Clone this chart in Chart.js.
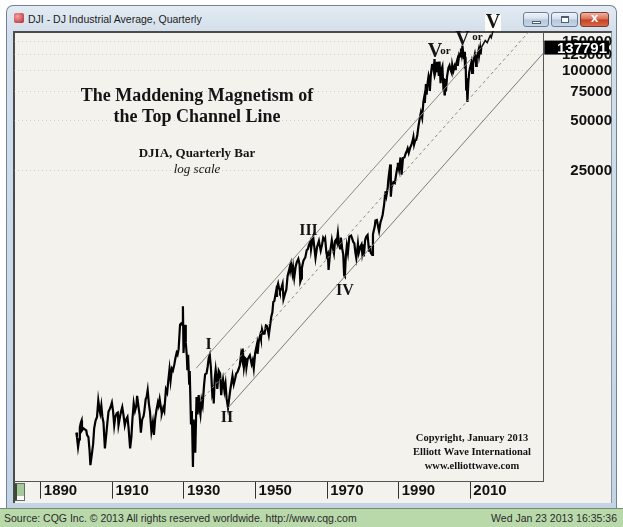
<!DOCTYPE html>
<html>
<head>
<meta charset="utf-8">
<title>DJI - DJ Industrial Average, Quarterly</title>
<script src="https://cdn.jsdelivr.net/npm/chart.js"></script>
<style>
    html, body { margin: 0; padding: 0; background: #ffffff; }
    body { position: relative; width: 623px; height: 527px; overflow: hidden; font-family: "Liberation Sans", Arial, sans-serif; }
    .win { position: absolute; left: 6px; top: 5px; width: 611px; height: 503px; box-sizing: border-box;
           border: 1px solid #72839b; border-bottom: none; border-radius: 7px 7px 0 0;
           background: linear-gradient(to bottom, #e3ebf3 0px, #d3dfeb 26px, #c4d4e5 100%); }
    .icon { position: absolute; left: 14px; top: 13px; width: 10px; height: 10px; border-radius: 2px;
            background: radial-gradient(circle at 35% 35%, #f7a0a0, #b3262d); }
    .caption { position: absolute; left: 28px; top: 13px; font-size: 10.5px; color: #1b1b1b; }
    .btn { position: absolute; top: 12px; height: 15px; box-sizing: border-box; border: 1px solid #6c7d95; border-radius: 3px;
           background: linear-gradient(to bottom, #f1f5fa 0%, #d3deea 48%, #b4c7dc 52%, #c6d6e8 100%); }
    .btn.min { left: 523px; width: 26px; }
    .btn.max { left: 551px; width: 27px; }
    .btn.close { left: 580px; width: 29px; border-color: #7a3a2c;
                 background: linear-gradient(to bottom, #eeb3a2 0%, #d86e52 48%, #c3411f 52%, #d9684a 100%); }
    .btn.min:after { content: ""; position: absolute; left: 8px; top: 8px; width: 9px; height: 3px; background: #fff; border: 1px solid #4d5d72; box-sizing: border-box; }
    .btn.max:after { content: ""; position: absolute; left: 9px; top: 3px; width: 8px; height: 7px; border: 1px solid #4d5d72; border-top-width: 2px; background: #fff; box-sizing: border-box; }
    .btn.close:after { content: "x"; position: absolute; left: 0; right: 0; top: -3px; text-align: center; color: #fff; font: bold 13px "Liberation Sans", Arial, sans-serif; }
    .client { position: absolute; left: 13px; top: 31px; width: 599px; height: 472px; box-sizing: border-box;
              background: #f3f2ec; border-top: 2px solid #4b4b4b; border-left: 2px solid #4b4b4b; border-right: 1px solid #8896a6; }
    .thumb { position: absolute; left: 14px; top: 483px; width: 11px; height: 18px; box-sizing: border-box;
             border: 1px solid #6a6a6a; border-left: 3px solid #3d4a38;
             background: linear-gradient(to bottom, #a6c99a 0%, #a6c99a 75%, #ffffff 75%); }
    .status { position: absolute; left: 0; top: 508px; width: 623px; height: 19px; box-sizing: border-box;
              background: #b9d9ab; border-top: 1px solid #6e8d69; font-size: 10.5px; color: #2a2a2a; }
    .status span { position: absolute; top: 3px; white-space: nowrap; }
    #grafica { position: absolute; left: 0; top: 0; z-index: 2; }
</style>
</head>
<body>
<div class="win">
</div>
<div class="icon"></div>
<div class="caption">DJI - DJ Industrial Average, Quarterly</div>
<div class="btn min"></div>
<div class="btn max"></div>
<div class="btn close"></div>
<div class="client"></div>
<div class="thumb"></div>
<div class="status">
    <span style="left:4px">Source: CQG Inc. © 2013 All rights reserved worldwide. http://www.cqg.com</span>
    <span style="right:6px">Wed Jan 23 2013 16:35:36</span>
</div>
<canvas id="grafica" width="623" height="527"></canvas>
<script>
// quarterly swings of the index (scale as printed on the chart)
const years = [
    1899.9, 1900.1, 1900.4, 1900.7, 1900.9, 1901.2, 1901.4, 1901.5, 1901.9, 1902.3, 1902.7, 1902.9,
    1903.3, 1903.6, 1903.85, 1904.2, 1904.6, 1904.9, 1905.3, 1905.7, 1906.05, 1906.4, 1906.6, 1906.9,
    1907.2, 1907.5, 1907.9, 1908.3, 1908.6, 1908.9, 1909.3, 1909.6, 1909.85, 1910.2, 1910.5, 1910.8,
    1911.2, 1911.5, 1911.7, 1912.1, 1912.4, 1912.75, 1913.1, 1913.45, 1913.8, 1914.2, 1914.5, 1914.95,
    1915.3, 1915.6, 1915.95, 1916.3, 1916.7, 1916.9, 1917.3, 1917.6, 1917.95, 1918.3, 1918.7, 1918.9,
    1919.3, 1919.55, 1919.85, 1920.2, 1920.5, 1920.9, 1921.3, 1921.6, 1921.95, 1922.3, 1922.7, 1922.9,
    1923.2, 1923.6, 1923.8, 1924.2, 1924.5, 1924.95, 1925.3, 1925.6, 1925.95, 1926.25, 1926.6, 1926.9,
    1927.3, 1927.6, 1927.95, 1928.2, 1928.5, 1928.9, 1929.2, 1929.45, 1929.7, 1929.87, 1930.1, 1930.3,
    1930.5, 1930.8, 1930.95, 1931.15, 1931.45, 1931.6, 1931.95, 1932.2, 1932.5, 1932.7, 1932.9, 1933.15,
    1933.5, 1933.8, 1934.1, 1934.35, 1934.6, 1934.9, 1935.2, 1935.6, 1935.9, 1936.3, 1936.6, 1936.9,
    1937.2, 1937.5, 1937.9, 1938.2, 1938.3, 1938.6, 1938.85, 1939.2, 1939.3, 1939.7, 1940.1, 1940.4,
    1940.7, 1940.9, 1941.3, 1941.6, 1941.9, 1942.3, 1942.6, 1942.95, 1943.3, 1943.55, 1943.9, 1944.3,
    1944.6, 1944.9, 1945.3, 1945.6, 1945.95, 1946.15, 1946.4, 1946.75, 1947.1, 1947.3, 1947.45, 1947.8,
    1948.4, 1948.7, 1948.9, 1949.2, 1949.5, 1949.9, 1950.4, 1950.55, 1950.9, 1951.3, 1951.5, 1951.8,
    1952.1, 1952.5, 1952.9, 1953.2, 1953.7, 1953.95, 1954.4, 1954.7, 1954.95, 1955.25, 1955.7, 1955.85,
    1955.95, 1956.3, 1956.55, 1956.8, 1957.2, 1957.55, 1957.8, 1958.2, 1958.6, 1958.95, 1959.3, 1959.6,
    1959.7, 1959.95, 1960.3, 1960.5, 1960.8, 1961.2, 1961.5, 1961.95, 1962.3, 1962.5, 1962.8, 1962.95,
    1963.4, 1963.9, 1964.3, 1964.6, 1964.9, 1965.35, 1965.5, 1965.9, 1966.1, 1966.4, 1966.75, 1967.2,
    1967.7, 1967.95, 1968.2, 1968.6, 1968.9, 1969.3, 1969.45, 1969.8, 1969.95, 1970.2, 1970.4, 1970.7,
    1970.95, 1971.3, 1971.6, 1971.9, 1972.2, 1972.5, 1972.7, 1973.0, 1973.3, 1973.6, 1973.85, 1974.2,
    1974.5, 1974.75, 1974.95, 1975.2, 1975.5, 1975.8, 1976.2, 1976.7, 1976.95, 1977.3, 1977.6, 1977.9,
    1978.15, 1978.6, 1978.85, 1979.3, 1979.6, 1979.8, 1980.15, 1980.25, 1980.6, 1980.9, 1981.3, 1981.7,
    1981.95, 1982.2, 1982.6, 1982.8, 1982.95, 1983.3, 1983.5, 1983.9, 1984.3, 1984.5, 1984.9, 1985.2,
    1985.5, 1985.9, 1986.2, 1986.3, 1986.55, 1986.9, 1987.1, 1987.3, 1987.65, 1987.8, 1988.0, 1988.5,
    1988.9, 1989.3, 1989.6, 1989.75, 1990.1, 1990.5, 1990.8, 1991.2, 1991.6, 1991.95, 1992.3, 1992.5,
    1992.8, 1993.2, 1993.5, 1993.9, 1994.1, 1994.3, 1994.6, 1994.9, 1995.2, 1995.5, 1995.9, 1996.2,
    1996.55, 1996.9, 1997.2, 1997.3, 1997.6, 1997.8, 1998.1, 1998.35, 1998.55, 1998.7, 1998.95, 1999.3,
    1999.5, 1999.8, 2000.0, 2000.2, 2000.5, 2000.7, 2000.8, 2001.0, 2001.2, 2001.4, 2001.7, 2001.9,
    2002.2, 2002.5, 2002.6, 2002.8, 2002.9, 2003.2, 2003.5, 2003.9, 2004.2, 2004.5, 2004.8, 2004.95,
    2005.3, 2005.6, 2005.8, 2005.95, 2006.35, 2006.5, 2006.9, 2007.15, 2007.4, 2007.6, 2007.8, 2008.2,
    2008.35, 2008.5, 2008.7, 2008.85, 2008.95, 2009.2, 2009.45, 2009.7, 2009.95, 2010.3, 2010.5, 2010.75,
    2010.95, 2011.3, 2011.5, 2011.6, 2011.8, 2011.95, 2012.3, 2012.45, 2012.75, 2012.9, 2013.06
];
const values = [
    660, 620, 540, 600, 710, 760, 780, 680, 700, 690, 680, 640,
    620, 520, 420, 480, 560, 700, 780, 820, 1030, 900, 860, 960,
    820, 760, 530, 650, 760, 880, 920, 960, 1000, 880, 730, 820,
    860, 870, 730, 820, 880, 940, 840, 730, 790, 820, 710, 530,
    620, 800, 990, 890, 960, 1100, 940, 840, 660, 790, 830, 880,
    1050, 1080, 1190, 980, 880, 670, 760, 640, 800, 900, 1000, 960,
    1050, 920, 860, 930, 890, 1200, 1150, 1350, 1590, 1360, 1600, 1560,
    1700, 1850, 2000, 1950, 2100, 2950, 3000, 2950, 3810, 1990, 2500, 2940,
    2300, 1900, 1570, 1940, 1300, 1550, 740, 890, 410, 790, 590, 500,
    1080, 850, 1110, 930, 850, 1030, 960, 1270, 1480, 1500, 1640, 1850,
    1940, 1650, 1130, 1200, 990, 1400, 1580, 1350, 1210, 1560, 1500, 1110,
    1300, 1380, 1180, 1300, 1060, 930, 1050, 1200, 1340, 1450, 1290, 1400,
    1500, 1520, 1600, 1680, 1950, 1860, 2120, 1630, 1850, 1830, 1630, 1830,
    1930, 1800, 1710, 1800, 1610, 2000, 2250, 1970, 2350, 2550, 2430, 2760,
    2600, 2600, 2920, 2900, 2550, 2800, 3300, 3500, 4040, 4100, 4650, 4400,
    4880, 5210, 4900, 4670, 4900, 5200, 4200, 4500, 4800, 5800, 6200, 6600,
    6300, 6790, 6000, 6500, 5660, 6600, 7000, 7350, 6800, 5360, 5600, 6500,
    7200, 7500, 8300, 8400, 8900, 9400, 8400, 9600, 9950, 8700, 7440, 8700,
    9430, 8800, 8250, 9000, 9850, 9500, 9700, 8000, 7700, 7900, 6310, 7500,
    8400, 9500, 8600, 7970, 9400, 9600, 9300, 10520, 9000, 8500, 9870, 8500,
    7800, 5850, 5770, 7500, 8800, 8000, 10000, 10150, 9800, 9300, 9100, 8000,
    7420, 9070, 8000, 8700, 8970, 8000, 9000, 7590, 9500, 10000, 10240, 8240,
    8800, 8000, 7770, 10300, 10700, 11500, 12500, 12600, 11300, 10790, 12200, 12800,
    13500, 15500, 18000, 18800, 17600, 19500, 22000, 24000, 27220, 17390, 19800, 21300,
    21000, 23800, 26000, 27900, 25400, 30000, 23650, 29800, 30000, 31700, 33000, 34000,
    32000, 34400, 35500, 37900, 39800, 35900, 38000, 38300, 41000, 46000, 51900, 56000,
    52000, 65000, 70600, 63900, 83000, 71600, 85000, 93000, 89000, 75400, 93000, 108000,
    110000, 100000, 117500, 97300, 104000, 113000, 98000, 109000, 93000, 113500, 84000, 101000,
    106000, 77000, 90000, 71900, 89000, 75000, 92000, 104000, 107500, 101000, 97000, 108700,
    100000, 106000, 102000, 108000, 116000, 107000, 125000, 122000, 136000, 127000, 141650, 117400,
    130000, 110000, 113000, 77000, 90000, 64700, 85000, 98000, 104000, 112000, 96900, 110000,
    116000, 126000, 119000, 107000, 119000, 122000, 132000, 123000, 136000, 125400, 137791
];
const lastValue = 137791;

// channel lines (start, end)
const upperYears = [1933.4, 2013.0];
const upperValues = [1612, 137600];
const midYears = [1934.5, 2026.2];
const midValues = [1014, 170100];
const lowerYears = [1942.2, 2030.4];
const lowerValues = [925, 127500];

const xTicks = [1890, 1910, 1930, 1950, 1970, 1990, 2010];
const yTicks = [25000, 50000, 75000, 100000, 125000, 150000];

const serif = '"Liberation Serif", "Times New Roman", serif';
const notes = [
    { text: 'The Maddening Magnetism of', x: 197, y: 96, font: 'bold 18px ' + serif },
    { text: 'the Top Channel Line', x: 197, y: 117, font: 'bold 18px ' + serif },
    { text: 'DJIA, Quarterly Bar', x: 197, y: 154, font: 'bold 13px ' + serif },
    { text: 'log scale', x: 197, y: 170, font: 'italic 13px ' + serif },
    { text: 'I', x: 208.5, y: 345, font: 'bold 16px ' + serif },
    { text: 'II', x: 227, y: 418, font: 'bold 16px ' + serif },
    { text: 'III', x: 308.5, y: 231, font: 'bold 16px ' + serif },
    { text: 'IV', x: 345, y: 291, font: 'bold 16px ' + serif },
    { text: 'V', x: 435, y: 52, font: 'bold 20px ' + serif },
    { text: 'or', x: 445.5, y: 51, font: 'bold 11px ' + serif },
    { text: 'V', x: 462.5, y: 40, font: 'bold 20px ' + serif },
    { text: 'or', x: 477.5, y: 37.5, font: 'bold 11px ' + serif },
    { text: 'Copyright, January 2013', x: 472, y: 438, font: 'bold 10.5px ' + serif },
    { text: 'Elliott Wave International', x: 472, y: 452, font: 'bold 10.5px ' + serif },
    { text: 'www.elliottwave.com', x: 472, y: 466, font: 'bold 10.5px ' + serif }
];

function pairs(xs, ys) {
    return xs.map((x, i) => ({ x: x, y: ys[i] }));
}

const annotate = {
    id: 'annotate',
    afterDatasetsDraw(chart) {
        const ctx = chart.ctx;
        const xs = chart.scales.x;
        const ys = chart.scales.y;
        const area = chart.chartArea;
        ctx.save();

        // hand drawn projection from the last bar up to the final V
        const lx = xs.getPixelForValue(years[years.length - 1]);
        const ly = ys.getPixelForValue(values[values.length - 1]);
        ctx.strokeStyle = '#111';
        ctx.lineWidth = 1.5;
        ctx.beginPath();
        ctx.moveTo(lx, ly);
        ctx.lineTo(lx + 4, ly - 7);
        ctx.lineTo(lx + 6, ly - 5);
        ctx.lineTo(lx + 9, ly - 12);
        ctx.lineTo(lx + 10, ly - 10);
        ctx.lineTo(493, 31);
        ctx.stroke();

        ctx.fillStyle = '#fbfbf8';
        ctx.fillRect(485, 14, 16, 17);

        ctx.fillStyle = '#141414';
        ctx.textAlign = 'center';
        ctx.textBaseline = 'middle';
        notes.forEach(n => {
            ctx.font = n.font;
            ctx.fillText(n.text, n.x, n.y);
        });
        ctx.font = 'bold 20px ' + serif;
        ctx.fillText('V', 493, 23);

        // last price tag
        const py = ys.getPixelForValue(lastValue);
        ctx.fillStyle = '#000';
        ctx.fillRect(area.right + 1, py - 7, 609 - area.right - 1, 14);
        ctx.fillStyle = '#fff';
        ctx.font = 'bold 15px "Liberation Sans", Arial, sans-serif';
        ctx.textAlign = 'right';
        ctx.fillText(String(lastValue), 607, py + 1);
        ctx.restore();
    }
};

function main() {
    const ctx = document.getElementById('grafica').getContext('2d');
    const tickFont = { family: '"Liberation Sans", Arial, sans-serif', weight: 'bold', size: 15 };

    const config = {
        type: 'line',
        data: {
            datasets: [
                { data: pairs(upperYears, upperValues), borderColor: '#8a8a8a', borderWidth: 1, pointRadius: 0 },
                { data: pairs(midYears, midValues), borderColor: '#8a8a8a', borderWidth: 1, borderDash: [3, 3], pointRadius: 0 },
                { data: pairs(lowerYears, lowerValues), borderColor: '#7a7a7a', borderWidth: 1, pointRadius: 0 },
                { data: pairs(years, values), borderColor: '#000', borderWidth: 2.2, pointRadius: 0, tension: 0 }
            ]
        },
        options: {
            responsive: false,
            animation: false,
            devicePixelRatio: 1,
            layout: { padding: { left: 14, top: 32, right: 11, bottom: 22 } },
            plugins: { legend: { display: false }, tooltip: { enabled: false } },
            scales: {
                x: {
                    type: 'linear',
                    min: 1882.5,
                    max: 2030.4,
                    afterBuildTicks: s => { s.ticks = xTicks.map(v => ({ value: v })); },
                    afterFit: s => { s.height = 23.3; },
                    grid: { display: true, drawOnChartArea: false, drawTicks: true, tickLength: 17, tickColor: '#333' },
                    border: { display: true, color: '#555', width: 1 },
                    ticks: {
                        align: 'start', labelOffset: 3, padding: -17, autoSkip: false, maxRotation: 0,
                        color: '#111', font: tickFont, callback: v => String(v)
                    }
                },
                y: {
                    type: 'logarithmic',
                    position: 'right',
                    min: 334,
                    max: 171000,
                    afterBuildTicks: s => { s.ticks = yTicks.map(v => ({ value: v })); },
                    afterFit: s => { s.width = 68.7; },
                    grid: { display: true, drawTicks: false, color: 'rgba(160,160,160,0.45)' },
                    border: { display: true, color: '#555', width: 1, dash: [1, 3] },
                    ticks: {
                        crossAlign: 'far', padding: 13.5, autoSkip: false,
                        color: '#111', font: tickFont, callback: v => String(v)
                    }
                }
            }
        },
        plugins: [annotate]
    };

    window.myChart = new Chart(ctx, config);
}

document.addEventListener('DOMContentLoaded', function() {
    main();
});
</script>
</body>
</html>
